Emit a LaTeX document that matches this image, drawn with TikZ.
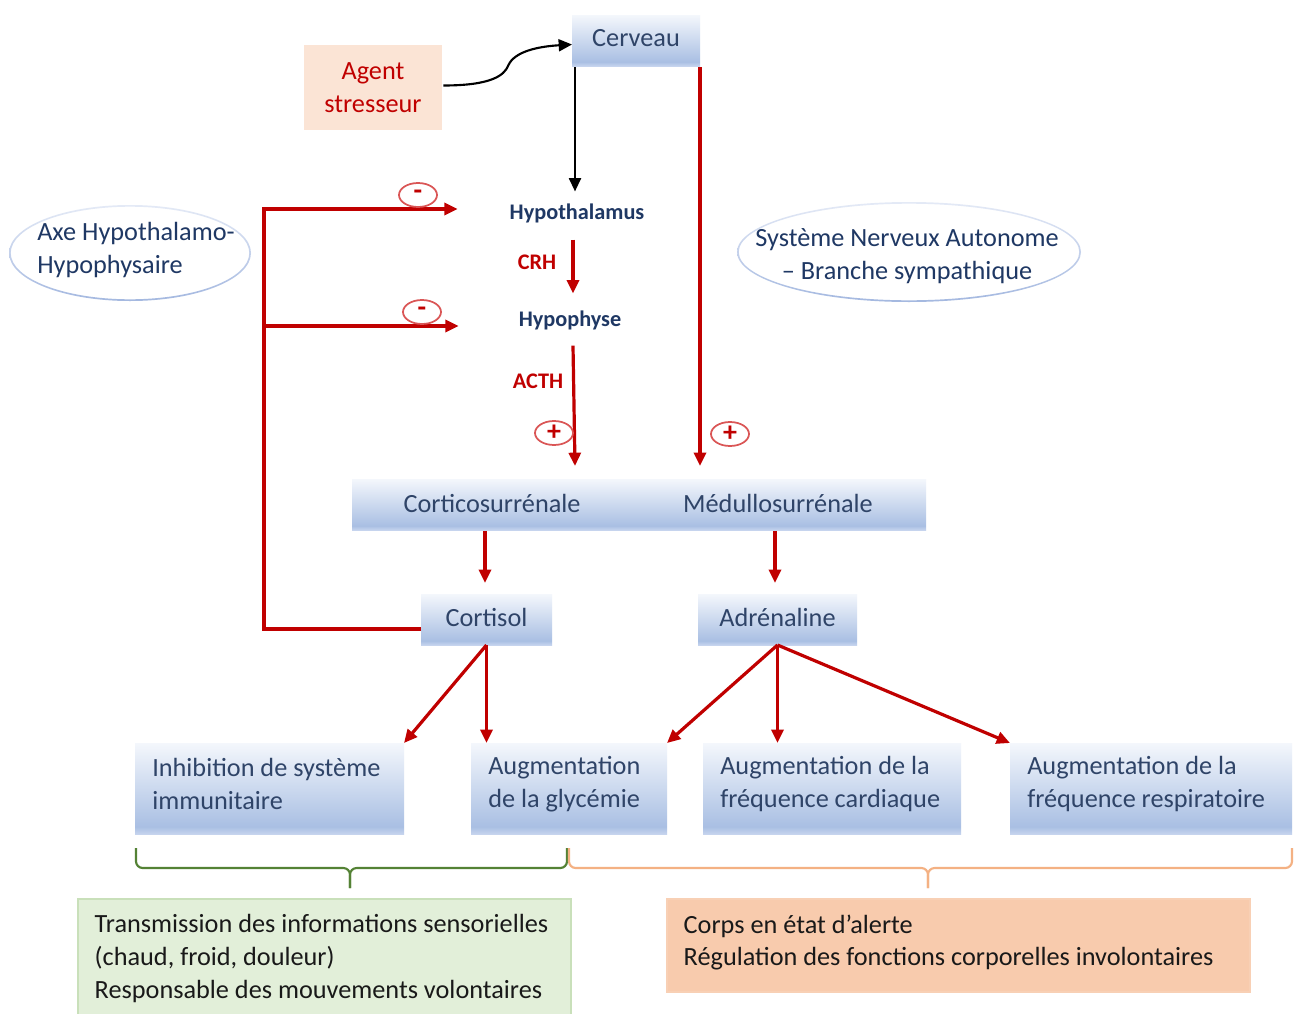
\documentclass[tikz,border=0pt]{standalone}
\usepackage{fontspec}
\setmainfont{Carlito}
\usetikzlibrary{arrows.meta,shapes.geometric,calc}

\definecolor{navy}{HTML}{1F3864}
\definecolor{boxtext}{HTML}{2F4468}
\definecolor{myred}{HTML}{C00000}
\definecolor{signred}{HTML}{DA5656}
\definecolor{bxtop}{HTML}{F4F7FC}
\definecolor{bxmid}{HTML}{A9BFE3}
\definecolor{bxbot}{HTML}{C6D4EE}
\definecolor{agentfill}{HTML}{FBE4D5}
\definecolor{greenfill}{HTML}{E2EFD9}
\definecolor{greenline}{HTML}{C9E0BA}
\definecolor{greenbrace}{HTML}{548235}
\definecolor{orangefill}{HTML}{F8CBAD}
\definecolor{orangeline}{HTML}{F4B183}
\definecolor{elltop}{HTML}{E4EAF6}
\definecolor{ellbot}{HTML}{A4B8E0}

% soft blue fill: light at the top, deeper near the bottom, a lighter rim below
\pgfdeclareverticalshading{bluefill}{100bp}{color(0bp)=(bxbot); color(25bp)=(bxbot); color(29bp)=(bxmid); color(75bp)=(bxtop); color(100bp)=(bxtop)}

\newcommand\fmain{\fontsize{19.7pt}{24.5pt}\selectfont}
\newcommand\fsmall{\fontsize{16.7pt}{20pt}\selectfont}

\begin{document}
\begin{tikzpicture}[x=0.75pt,y=-0.75pt,
  bluebox/.style={rectangle, shading=bluefill, draw=none, inner sep=0pt, outer sep=0pt,
    text=boxtext, font=\fmain},
  effectbox/.style={bluebox, minimum height=68.25pt},
  boxlabel/.style={inner sep=0pt, text=boxtext, font=\fmain},
  effecttext/.style={boxlabel, anchor=west, align=left},
  notetext/.style={inner sep=0pt, anchor=west, align=left, text=black!90, font=\fmain},
  organ/.style={inner sep=0pt, outer sep=0pt, text=navy, font=\fsmall\bfseries},
  hormone/.style={inner sep=0pt, text=myred, font=\fsmall\bfseries},
  sign/.style={ellipse, draw=signred, line width=1.3pt, minimum width=28.5pt,
    minimum height=18pt, inner sep=0pt, text=myred, font=\fontsize{21pt}{21pt}\selectfont\bfseries},
  axisring/.style={ellipse, draw=none, inner sep=0pt},
  axistext/.style={inner sep=0pt, text=navy, font=\fmain},
  redline/.style={draw=myred, line width=2.4pt},
  redarrow/.style={redline, -{Triangle[length=10pt,width=9pt]}},
  blackarrow/.style={draw=black, line width=1.6pt, -{Triangle[length=10pt,width=9pt]}},
  brace/.style={line width=1.6pt, rounded corners=5pt},
]
\fill[white] (0,0) rectangle (1297,1014);
\useasboundingbox (0,0) rectangle (1297,1014);

% top: stressor and brain
\node[bluebox, minimum width=96pt, minimum height=38.25pt] (cerveau) at (636,40.5) {};
\node[boxlabel] (cerveautxt) at (636,38) {Cerveau};
\node[rectangle, fill=agentfill, inner sep=0pt, minimum width=103.5pt, minimum height=63.75pt,
  align=center, text=myred, font=\fmain] (agent) at (373,87.5) {Agent\\stresseur};

% hypothalamo-pituitary chain
\node[organ] (hypothal) at (577,213) {Hypothalamus};
\node[organ] (hypophyse) at (570,320) {Hypophyse};
\node[hormone] (crh) at (537,262) {CRH};
\node[hormone] (acth) at (538,381) {ACTH};

% the two axes: outlines fade from pale at the top to blue at the bottom
\node[axisring, minimum width=181.5pt, minimum height=72pt] (axe) at (130,253) {};
\shade[top color=elltop, bottom color=ellbot, even odd rule]
  (axe.center) ellipse [x radius=121, y radius=48] (axe.center) ellipse [x radius=119.3, y radius=46.3];
\node[axistext, align=left] (axetxt) at (136,250) {Axe Hypothalamo-\\Hypophysaire};
\node[axisring, minimum width=258pt, minimum height=75pt] (sna) at (909,252) {};
\shade[top color=elltop, bottom color=ellbot, even odd rule]
  (sna.center) ellipse [x radius=172, y radius=50] (sna.center) ellipse [x radius=170.3, y radius=48.3];
\node[axistext, align=center] (snatxt) at (907,256) {Système Nerveux Autonome\\– Branche sympathique};

% adrenal gland
\node[bluebox, minimum width=430.5pt, minimum height=38.25pt] (bar) at (639,504.5) {};
\node[boxlabel] (cortico) at (492,503) {Corticosurrénale};
\node[boxlabel] (medullo) at (778,503) {Médullosurrénale};

% hormones released
\node[bluebox, minimum width=98.25pt, minimum height=38.25pt] (cortisol) at (486.5,619.5) {};
\node[boxlabel] (cortisoltxt) at (486.5,617) {Cortisol};
\node[bluebox, minimum width=119.25pt, minimum height=38.25pt] (adren) at (777.5,619.5) {};
\node[boxlabel] (adrentxt) at (777.5,617) {Adrénaline};

% effects
\node[effectbox, minimum width=201.75pt] (immun) at (269.5,788.5) {};
\node[effecttext] (immuntxt) at ($(immun.west)+(17,-4.5)$) {Inhibition de système\\immunitaire};
\node[effectbox, minimum width=147pt] (glyc) at (569,788.5) {};
\node[effecttext] (glyctxt) at ($(glyc.west)+(17,-4.5)$) {Augmentation\\de la glycémie};
\node[effectbox, minimum width=193.5pt] (cardio) at (832,788.5) {};
\node[effecttext] (cardiotxt) at ($(cardio.west)+(17,-4.5)$) {Augmentation de la\\fréquence cardiaque};
\node[effectbox, minimum width=211.5pt] (resp) at (1151,788.5) {};
\node[effecttext] (resptxt) at ($(resp.west)+(17,-4.5)$) {Augmentation de la\\fréquence respiratoire};

% summary boxes
\node[rectangle, fill=greenfill, draw=greenline, line width=0.8pt, inner sep=0pt,
  minimum width=369.75pt, minimum height=90.75pt] (somatic) at (324.5,959.5) {};
\node[notetext] (somatictxt) at ($(somatic.north west)+(17,60)$)
  {Transmission des informations sensorielles\\(chaud, froid, douleur)\\Responsable des mouvements volontaires};
\node[rectangle, fill=orangefill, draw=orangeline!60, line width=0.8pt, inner sep=0pt,
  minimum width=437.25pt, minimum height=69.75pt] (autonomic) at (958.5,945.5) {};
\node[notetext] (autonomictxt) at ($(autonomic.north west)+(17,44)$)
  {Corps en état d’alerte\\Régulation des fonctions corporelles involontaires};

% stressor reaches the brain
\draw[blackarrow] ($(agent.east)+(1,-2)$) .. controls +(48,0) and +(-4,10) .. ($(agent.east)+(66,-22)$)
  .. controls +(6,-14) and +(-34,2) .. ($(cerveau.west)+(0,4)$);
\draw[blackarrow] ($(cerveau.south)+(-61,1)$) -- ($(hypothal.north)+(-2,-12)$);
\draw[redarrow] ($(cerveau.south east)+(0,1)$) -- ($(bar.north -| cerveau.south east)+(0,-13)$);

% hormonal cascade
\draw[redarrow] ($(hypothal.south)+(-4,17)$) -- ($(hypophyse.north)+(3,-17)$);
\draw[redarrow] ($(hypophyse.south)+(3,16)$) -- ($(bar.north)+(-64,-13)$);
\draw[redarrow] ($(bar.south)+(-154,1)$) -- ($(cortisol.north)+(-1.5,-11)$);
\draw[redarrow] ($(bar.south)+(136,1)$) -- ($(adren.north)+(-2.5,-11)$);

% negative feedback of cortisol
\coordinate (fbbot) at (264,629);
\coordinate (fbtop) at (264,209);
\coordinate (fbmid) at (264,326);
\draw[redarrow] ($(cortisol.west)+(0,9.5)$) -- (fbbot) -- (fbtop) -- ($(hypothal.west)+(-52,-4)$);
\draw[redarrow] (fbmid) -- ($(hypophyse.west)+(-60,6)$);

% effects of the hormones
\draw[redarrow] (cortisol.south) -- (immun.north east);
\draw[redarrow] (cortisol.south) -- (glyc.north -| cortisol.south);
\draw[redarrow] (adren.south) -- (glyc.north east);
\draw[redarrow] (adren.south) -- (cardio.north -| adren.south);
\draw[redarrow] (adren.south) -- (resp.north west);

% activation / inhibition marks
\node[sign] (minus1) at (418,195) {-};
\node[sign] (minus2) at (422,312) {-};
\node[sign] (plus1) at (554,433) {+};
\node[sign] (plus2) at (730,434) {+};

% braces grouping the effects
\draw[brace, greenbrace] (136,848) |- (350,868) -- (350,888);
\draw[brace, greenbrace] (567,848) |- (350,868) -- (350,888);
\draw[brace, orangeline] (569,848) |- (928,868) -- (928,888);
\draw[brace, orangeline] (1292,848) |- (928,868) -- (928,888);
\end{tikzpicture}
\end{document}
